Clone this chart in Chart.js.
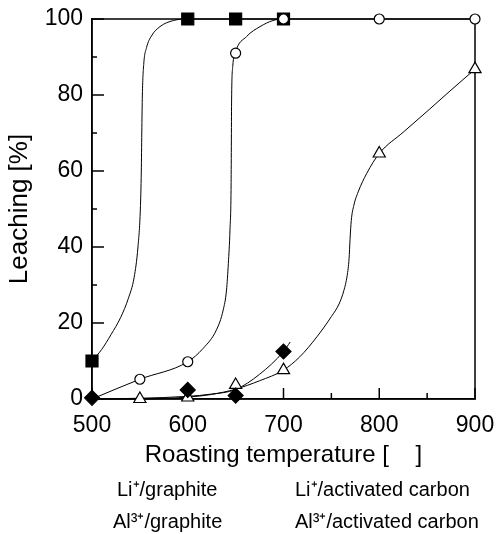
<!DOCTYPE html>
<html><head><meta charset="utf-8">
<script src="https://cdn.jsdelivr.net/npm/chart.js@4.4.1/dist/chart.umd.min.js"></script>
<style>html,body{margin:0;padding:0;background:#fff}#wrap{width:496px;height:534px;position:relative}</style>
</head><body><div id="wrap"><canvas id="c"></canvas></div>
<script>
// ---- data ----
const xMajorTicks = [500, 600, 700, 800, 900];
const xMinorTicks = [550, 650, 750, 850];
const yMajorTicks = [0, 20, 40, 60, 80, 100];
const yMinorTicks = [10, 30, 50, 70, 90];
const seriesLabels = ['Li⁺/graphite', 'Li⁺/activated carbon', 'Al³⁺/graphite', 'Al³⁺/activated carbon'];
const xTitle = 'Roasting temperature [    ]';
const yTitle = 'Leaching [%]';

// measured points
const liGraphiteT = [500, 600, 650, 700];
const liGraphiteV = [10, 100, 100, 100];
const liCarbonT = [550, 600, 650, 700, 800, 900];
const liCarbonV = [5.2, 9.8, 91, 100, 100, 100];
const alGraphiteT = [500, 600, 650, 700];
const alGraphiteV = [0.3, 2.4, 0.9, 12.5];
const alCarbonT = [550, 600, 650, 700, 800, 900];
const alCarbonV = [0, 0.4, 3.7, 7.6, 64.6, 86.8];

// fitted curves
const liGraphiteCurveT = [500, 510, 520, 530, 538, 544, 548, 550.5, 551.5, 552, 552.6, 554, 557, 562, 571, 585, 600, 650, 700];
const liGraphiteCurveV = [10, 13, 17, 21.5, 26.5, 32, 40, 50, 60, 70, 80, 88, 92.5, 95.5, 98, 99.6, 100, 100, 100];
const liCarbonCurveT = [500, 550, 600, 616, 630, 637, 640.5, 642.4, 644.1, 645.3, 645.8, 647, 649.5, 661.5, 675.5, 689, 700, 800, 900];
const liCarbonCurveV = [0, 5.2, 9.8, 13.3, 18.2, 23.4, 28.7, 35.7, 44.5, 57, 78.7, 87.5, 91, 95.4, 98, 99.6, 100, 100, 100];
const alGraphiteCurveT = [500, 550, 600, 625, 650, 675, 700, 707];
const alGraphiteCurveV = [0, 0.2, 0.7, 1.3, 2.5, 6.5, 12.5, 15];
const alCarbonCurveT = [500, 550, 600, 625, 650, 675, 700, 717, 735, 750, 758, 763, 766.5, 768.5, 769.5, 770.8, 773.5, 778, 787, 800, 825, 850, 875, 900];
const alCarbonCurveV = [0, 0, 0.5, 1.2, 2.6, 4.8, 7.6, 11.1, 16.4, 21.7, 25, 28.5, 32.5, 37, 42, 47, 51, 54.5, 59.4, 64.6, 70.2, 75.7, 81.3, 86.8];

// ---- chart ----
const FONT = '"Liberation Sans", Arial, sans-serif';
const pts = (t, v) => t.map((x, i) => ({x, y: v[i]}));

function curve(t, v) {
  return {data: pts(t, v), showLine: true, pointRadius: 0, borderColor: '#000', borderWidth: 1,
    cubicInterpolationMode: 'monotone', fill: false, order: 10, clip: false};
}
function marks(label, t, v, style, r, fill, order) {
  return {label, data: pts(t, v), showLine: false, pointStyle: style, pointRadius: r, pointHoverRadius: r,
    backgroundColor: fill, borderColor: '#000', borderWidth: 1.2, order, clip: false};
}

const frameTicks = {
  id: 'frameTicks',
  beforeDatasetsDraw(chart) {
    const {ctx, chartArea: a, scales: {x, y}} = chart;
    ctx.save();
    ctx.strokeStyle = '#000';
    ctx.lineWidth = 1.5;
    ctx.strokeRect(a.left, a.top, a.right - a.left, a.bottom - a.top);
    ctx.beginPath();
    xMajorTicks.forEach(v => { const p = x.getPixelForValue(v); ctx.moveTo(p, a.bottom); ctx.lineTo(p, a.bottom - 11); });
    xMinorTicks.forEach(v => { const p = x.getPixelForValue(v); ctx.moveTo(p, a.bottom); ctx.lineTo(p, a.bottom - 6); });
    yMajorTicks.forEach(v => { const p = y.getPixelForValue(v); ctx.moveTo(a.left, p); ctx.lineTo(a.left + 12, p); });
    yMinorTicks.forEach(v => { const p = y.getPixelForValue(v); ctx.moveTo(a.left, p); ctx.lineTo(a.left + 5, p); });
    ctx.stroke();
    ctx.restore();
  }
};

const textLegend = {
  id: 'textLegend',
  afterDraw(chart) {
    const ctx = chart.ctx;
    const pos = [[117, 490], [295, 490], [113, 522], [295, 522]];
    ctx.save();
    ctx.font = '20px ' + FONT;
    ctx.fillStyle = '#000';
    ctx.textBaseline = 'middle';
    ctx.textAlign = 'left';
    seriesLabels.forEach((s, i) => ctx.fillText(s, pos[i][0], pos[i][1]));
    ctx.restore();
  }
};

new Chart(document.getElementById('c'), {
  type: 'scatter',
  data: {
    datasets: [
      curve(liGraphiteCurveT, liGraphiteCurveV),
      curve(liCarbonCurveT, liCarbonCurveV),
      curve(alGraphiteCurveT, alGraphiteCurveV),
      curve(alCarbonCurveT, alCarbonCurveV),
      marks(seriesLabels[3], alCarbonT, alCarbonV, 'triangle', 7, '#fff', 3),
      marks(seriesLabels[2], alGraphiteT, alGraphiteV, 'rectRot', 7.5, '#000', 2),
      marks(seriesLabels[0], liGraphiteT, liGraphiteV, 'rect', 8.5, '#000', 1),
      marks(seriesLabels[1], liCarbonT, liCarbonV, 'circle', 5, '#fff', 0)
    ]
  },
  options: {
    responsive: true,
    maintainAspectRatio: false,
    animation: false,
    events: [],
    layout: {padding: {top: 19, right: 21, bottom: 64, left: 0}},
    plugins: {legend: {display: false}, tooltip: {enabled: false}},
    scales: {
      x: {
        type: 'linear', min: 500, max: 900,
        afterBuildTicks: s => { s.ticks = xMajorTicks.map(v => ({value: v})); },
        afterFit: s => { s.height = 71; s.paddingLeft = 0; s.paddingRight = 0; },
        grid: {display: false, drawTicks: false},
        border: {display: true, color: '#000', width: 1.5},
        ticks: {color: '#000', font: {family: FONT, size: 23}, padding: 13, maxRotation: 0},
        title: {display: true, text: xTitle, color: '#000', font: {family: FONT, size: 24}, padding: {top: 0, bottom: 0}}
      },
      y: {
        type: 'linear', min: 0, max: 100,
        afterBuildTicks: s => { s.ticks = yMajorTicks.map(v => ({value: v})); },
        afterFit: s => { s.width = 92; s.paddingTop = 0; s.paddingBottom = 0; },
        grid: {display: false, drawTicks: false},
        border: {display: true, color: '#000', width: 1.5},
        ticks: {color: '#000', font: {family: FONT, size: 23}, padding: 9},
        title: {display: true, text: yTitle, color: '#000', font: {family: FONT, size: 26}, padding: {top: 4, bottom: 0}}
      }
    }
  },
  plugins: [frameTicks, textLegend]
});
</script>
</body></html>
